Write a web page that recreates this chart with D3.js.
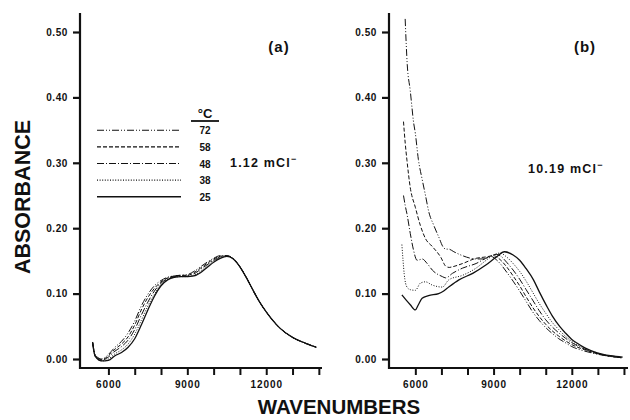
<!DOCTYPE html>
<html>
<head>
<meta charset="utf-8">
<script src="https://cdn.jsdelivr.net/npm/d3@7"></script>
<style>
body { margin: 0; background: #fff; }
text { font-family: "Liberation Sans", Arial, sans-serif; font-weight: bold; fill: #111; }
</style>
</head>
<body>
<svg id="chart" width="630" height="420"></svg>
<script>
// temperatures (legend order) and tick values
const temps = [72, 58, 48, 38, 25];
const yTicks = [0, 0.1, 0.2, 0.3, 0.4, 0.5];
const xTicks = [6000, 7000, 8000, 9000, 10000, 11000, 12000, 13000, 14000];
const xTickLabels = [6000, 9000, 12000];
const labelA = "1.12 mCl";
const labelB = "10.19 mCl";

// panel (a): common wavenumber grid
const aWave = [5400, 5500, 5750, 6000, 6250, 6500, 6750, 7000, 7250, 7500, 7750, 8000, 8250, 8500, 8750, 9000,
  9250, 9500, 9750, 10000, 10250, 10500, 10750, 11000, 11250, 11500, 11750, 12000, 12500, 13000, 13500, 13900];
const a72 = [0.026, 0.006, 0.000, 0.007, 0.018, 0.027, 0.040, 0.058, 0.081, 0.099, 0.112, 0.120, 0.125, 0.127, 0.128, 0.129,
  0.134, 0.141, 0.148, 0.154, 0.158, 0.158, 0.153, 0.141, 0.124, 0.105, 0.087, 0.072, 0.048, 0.033, 0.024, 0.018];
const a58 = [0.026, 0.005, -0.001, 0.005, 0.015, 0.023, 0.034, 0.052, 0.075, 0.094, 0.108, 0.118, 0.124, 0.127, 0.128, 0.128,
  0.132, 0.139, 0.146, 0.153, 0.157, 0.158, 0.153, 0.141, 0.124, 0.105, 0.087, 0.072, 0.048, 0.033, 0.024, 0.018];
const a48 = [0.025, 0.005, -0.002, 0.003, 0.012, 0.019, 0.029, 0.045, 0.067, 0.087, 0.104, 0.116, 0.123, 0.126, 0.127, 0.127,
  0.130, 0.137, 0.144, 0.151, 0.156, 0.158, 0.153, 0.141, 0.124, 0.105, 0.087, 0.072, 0.048, 0.033, 0.024, 0.018];
const a38 = [0.025, 0.004, -0.003, 0.000, 0.008, 0.014, 0.023, 0.038, 0.059, 0.081, 0.099, 0.114, 0.122, 0.125, 0.126, 0.126,
  0.128, 0.134, 0.142, 0.150, 0.155, 0.157, 0.153, 0.141, 0.124, 0.105, 0.087, 0.072, 0.048, 0.033, 0.024, 0.018];
const a25 = [0.024, 0.004, -0.003, -0.002, 0.005, 0.010, 0.018, 0.031, 0.052, 0.075, 0.096, 0.112, 0.121, 0.125, 0.126, 0.126,
  0.127, 0.132, 0.140, 0.148, 0.154, 0.157, 0.153, 0.141, 0.124, 0.105, 0.087, 0.072, 0.048, 0.033, 0.024, 0.018];

// panel (b): [wavenumber, absorbance]
const b72 = [[5610,0.52],[5690,0.45],[5806,0.41],[5870,0.385],[5922,0.365],[6000,0.345],[6117,0.305],[6260,0.275],[6390,0.25],
  [6516,0.225],[6700,0.205],[6893,0.187],[7087,0.170],[7180,0.168],[7281,0.168],[7476,0.164],[7747,0.159],[8330,0.153],
  [8650,0.153],[8900,0.157],[9100,0.152],[9250,0.146],[9500,0.133],[9750,0.119],[10000,0.104],[10250,0.088],[10500,0.072],
  [10750,0.059],[11000,0.048],[11250,0.039],[11500,0.031],[11750,0.025],[12000,0.019],[12330,0.014],[12800,0.009],
  [13300,0.005],[13900,0.002]];
const b58 = [[5546,0.363],[5612,0.33],[5678,0.304],[5806,0.262],[6000,0.232],[6194,0.204],[6390,0.184],[6650,0.172],
  [6970,0.156],[7165,0.142],[7300,0.140],[7425,0.141],[7813,0.146],[8330,0.154],[8700,0.156],[9000,0.158],[9250,0.152],
  [9500,0.141],[9750,0.127],[10000,0.112],[10250,0.095],[10500,0.079],[10750,0.065],[11000,0.053],[11250,0.043],
  [11500,0.035],[11750,0.028],[12000,0.022],[12500,0.014],[13000,0.008],[13500,0.004],[13900,0.002]];
const b48 = [[5546,0.25],[5610,0.235],[5678,0.222],[5806,0.192],[5922,0.168],[6066,0.151],[6180,0.152],[6260,0.153],
  [6454,0.146],[6650,0.136],[7037,0.126],[7165,0.124],[7425,0.131],[7813,0.139],[8330,0.146],[8700,0.154],[9100,0.160],
  [9250,0.158],[9500,0.148],[9750,0.136],[10000,0.122],[10250,0.106],[10500,0.090],[10750,0.074],[11000,0.060],
  [11250,0.049],[11500,0.040],[11750,0.032],[12000,0.025],[12500,0.015],[13000,0.008],[13500,0.004],[13900,0.002]];
const b38 = [[5484,0.175],[5530,0.15],[5573,0.13],[5678,0.11],[5806,0.106],[6000,0.105],[6194,0.116],[6390,0.118],
  [6650,0.113],[7037,0.110],[7281,0.121],[7813,0.128],[8330,0.139],[8750,0.152],[9000,0.159],[9250,0.162],[9500,0.156],
  [9750,0.146],[10000,0.134],[10250,0.119],[10500,0.102],[10750,0.085],[11000,0.070],[11250,0.056],[11500,0.045],
  [11750,0.035],[12000,0.027],[12500,0.016],[13000,0.009],[13500,0.004],[13900,0.002]];
const b25 = [[5484,0.098],[5650,0.090],[5806,0.083],[6000,0.075],[6117,0.083],[6260,0.093],[6505,0.097],[6893,0.100],
  [7087,0.104],[7281,0.110],[7670,0.121],[8200,0.131],[8718,0.144],[9107,0.156],[9417,0.164],[9750,0.159],[10000,0.151],
  [10250,0.138],[10530,0.121],[10750,0.103],[11050,0.080],[11250,0.066],[11550,0.049],[11750,0.040],[12000,0.030],
  [12210,0.024],[12500,0.017],[13000,0.009],[13500,0.005],[13950,0.003]];

// line style per temperature
const dashes = {72: "7,2,1,2,1,2", 58: "4,2", 48: "7,2,1,2", 38: "1,1.6", 25: null};

const svg = d3.select("#chart");

const y = d3.scaleLinear().domain([0, 0.5]).range([359, 32]);
const axisBottomY = 368;
const axisTopY = 13;

const panels = [
  { x: d3.scaleLinear().domain([4920, 14120]).range([80, 322]),
    series: temps.map((t, i) => ({t: t, pts: aWave.map((w, j) => [w, [a72, a58, a48, a38, a25][i][j]])})),
    tag: "(a)", tagX: 279, note: labelA, noteX: 230, noteY: 167 },
  { x: d3.scaleLinear().domain([4990, 14155]).range([389, 628]),
    series: temps.map((t, i) => ({t: t, pts: [b72, b58, b48, b38, b25][i]})),
    tag: "(b)", tagX: 585, note: labelB, noteX: 528, noteY: 173 }
];

panels.forEach(p => {
  const g = svg.append("g");
  const x0 = p.x.range()[0];

  // y axis
  const ya = g.append("g").attr("transform", "translate(" + x0 + ",0)")
    .call(d3.axisLeft(y).tickValues(yTicks).tickFormat(d3.format(".2f")).tickSize(7).tickPadding(5));
  ya.select(".domain").remove();
  ya.selectAll(".tick line").attr("stroke", "#111").attr("stroke-width", 2.2);
  ya.selectAll("text").style("font-size", "10px").style("letter-spacing", "0.6px").attr("fill", "#111");

  // x axis
  const xa = g.append("g").attr("transform", "translate(0," + axisBottomY + ")")
    .call(d3.axisBottom(p.x).tickValues(xTicks)
      .tickFormat(d => xTickLabels.includes(d) ? d : "").tickSize(7).tickPadding(6));
  xa.select(".domain").remove();
  xa.selectAll(".tick line").attr("stroke", "#111").attr("stroke-width", 2);
  xa.selectAll("text").style("font-size", "10px").style("letter-spacing", "0.9px").attr("fill", "#111");

  // axis lines
  g.append("line").attr("x1", x0).attr("x2", x0).attr("y1", axisTopY).attr("y2", axisBottomY + 1)
    .attr("stroke", "#111").attr("stroke-width", 2.2);
  g.append("line").attr("x1", x0).attr("x2", p.x.range()[1]).attr("y1", axisBottomY).attr("y2", axisBottomY)
    .attr("stroke", "#111").attr("stroke-width", 2.2);

  // curves
  const line = d3.line().x(d => p.x(d[0])).y(d => y(d[1])).curve(d3.curveMonotoneX);
  g.selectAll(".curve").data(p.series).enter().append("path")
    .attr("class", "curve")
    .attr("d", d => line(d.pts))
    .attr("fill", "none")
    .attr("stroke", "#111")
    .attr("stroke-width", d => d.t === 25 ? 1.3 : 1)
    .attr("stroke-dasharray", d => dashes[d.t]);

  g.append("text").attr("x", p.tagX).attr("y", 52).attr("text-anchor", "middle")
    .style("font-size", "15px").style("letter-spacing", "1px").text(p.tag);

  const note = g.append("text").attr("x", p.noteX).attr("y", p.noteY)
    .style("font-size", "12.5px").style("letter-spacing", "1.2px");
  note.append("tspan").text(p.note);
  note.append("tspan").attr("dy", -5).style("font-size", "9px").text("\u2212");
});

// legend in panel (a)
const legY = d3.scaleBand().domain(temps).range([122, 205]);
const leg = svg.append("g");
leg.selectAll("line").data(temps).enter().append("line")
  .attr("x1", 97).attr("x2", 181)
  .attr("y1", d => legY(d) + legY.bandwidth() / 2).attr("y2", d => legY(d) + legY.bandwidth() / 2)
  .attr("stroke", "#111").attr("stroke-width", d => d === 25 ? 1.4 : 1.1)
  .attr("stroke-dasharray", d => dashes[d]);
leg.selectAll("text").data(temps).enter().append("text")
  .attr("x", 205).attr("y", d => legY(d) + legY.bandwidth() / 2 + 4)
  .attr("text-anchor", "middle").style("font-size", "10px").text(d => d);
leg.append("text").attr("x", 205).attr("y", 118).attr("text-anchor", "middle")
  .style("font-size", "13px").text("\u00B0C");
leg.append("line").attr("x1", 191).attr("x2", 219).attr("y1", 121).attr("y2", 121)
  .attr("stroke", "#111").attr("stroke-width", 1.8);

// axis titles
svg.append("text").attr("transform", "translate(30,197) rotate(-90)").attr("text-anchor", "middle")
  .style("font-size", "21.5px").text("ABSORBANCE");
svg.append("text").attr("x", 339).attr("y", 414).attr("text-anchor", "middle")
  .style("font-size", "20.5px").text("WAVENUMBERS");
</script>
</body>
</html>
